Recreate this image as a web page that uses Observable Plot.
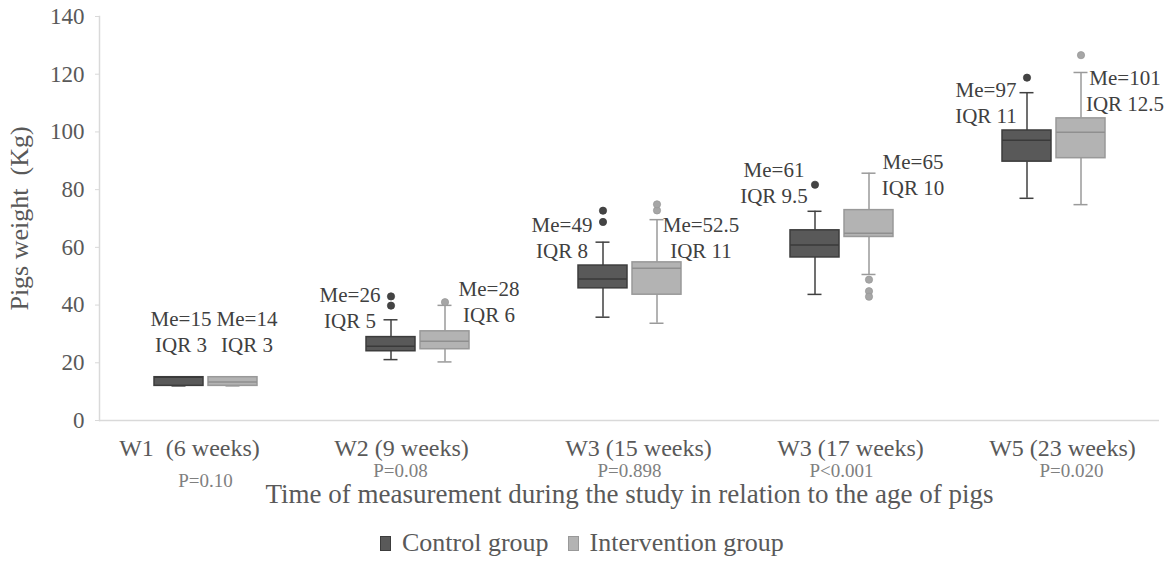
<!DOCTYPE html>
<html>
<head>
<meta charset="utf-8">
<script src="https://cdn.jsdelivr.net/npm/d3@7"></script>
<script src="https://cdn.jsdelivr.net/npm/@observablehq/plot@0.6"></script>
<style>
  body { margin: 0; background: #fff; font-family: "Liberation Serif", "Times New Roman", serif; }
  svg text { white-space: pre; }
  #legend { position: absolute; top: 527px; left: 380px; height: 32px; display: flex; align-items: center;
            font-size: 26px; color: #595959; white-space: nowrap; }
  #legend .sw { display: inline-block; width: 11px; height: 15px; margin-right: 11px; box-sizing: border-box; }
  #legend .item { display: inline-flex; align-items: center; margin-right: 19px; }
</style>
</head>
<body>
<div id="chart"></div>
<div id="legend"></div>
<script>
// ---- data ----
const times = ["W1  (6 weeks)", "W2 (9 weeks)", "W3 (15 weeks)", "W3 (17 weeks)", "W5 (23 weeks)"];
const groups = ["Control group", "Intervention group"];
// [lower whisker, Q1, median, Q3, upper whisker] in kg
const controlBoxes = [
  [12, 12, 15, 15, 15],
  [21.1, 24, 25.7, 28.9, 34.9],
  [35.8, 45.8, 49, 53.7, 61.8],
  [43.7, 56.5, 60.8, 65.9, 72.5],
  [77, 89.7, 97.1, 100.5, 113.6]
];
const interventionBoxes = [
  [12, 12, 13.3, 15, 15],
  [20.3, 24.7, 27.5, 30.9, 39.9],
  [33.7, 43.6, 52.8, 54.8, 69.6],
  [50.6, 63.6, 64.9, 72.9, 85.7],
  [74.8, 90.9, 99.9, 104.7, 120.6]
];
const controlOutliers = [[], [39.8, 43], [68.8, 72.7], [81.7], [118.8]];
const interventionOutliers = [[], [41], [72.8, 74.9], [48.8, 44.8, 42.9], [126.6]];
const controlMe = [15, 26, 49, 61, 97];
const controlIqr = [3, 5, 8, 9.5, 11];
const interventionMe = [14, 28, 52.5, 65, 101];
const interventionIqr = [3, 6, 11, 10, 12.5];
// vertical anchor (kg) of each Me/IQR annotation
const controlLabelKg = [31, 39.6, 63.6, 82.6, 110.4];
const interventionLabelKg = [31, 41.5, 63.7, 85.4, 114.7];
const pValues = ["P=0.10", "P=0.08", "P=0.898", "P<0.001", "P=0.020"];
const yTicks = [0, 20, 40, 60, 80, 100, 120, 140];
const xTitle = "Time of measurement during the study in relation to the age of pigs";
const yTitle = "Pigs weight  (Kg)";

// ---- styles ----
const fillOf = {[groups[0]]: "#595959", [groups[1]]: "#b3b3b3"};
const edgeOf = {[groups[0]]: "#3c3c3c", [groups[1]]: "#999999"};
const medOf = {[groups[0]]: "#3a3a3a", [groups[1]]: "#8f8f8f"};
const whiskOf = {[groups[0]]: "#404040", [groups[1]]: "#9a9a9a"};
const dotOf = {[groups[0]]: "#444444", [groups[1]]: "#a6a6a6"};

// ---- tables ----
const boxes = [];
const outliers = [];
const labels = [];
times.forEach((t, i) => {
  [[groups[0], controlBoxes[i], controlOutliers[i], controlMe[i], controlIqr[i], controlLabelKg[i]],
   [groups[1], interventionBoxes[i], interventionOutliers[i], interventionMe[i], interventionIqr[i], interventionLabelKg[i]]]
  .forEach(([g, b, o, me, iqr, ly]) => {
    boxes.push({time: t, group: g, lo: b[0], q1: b[1], med: b[2], q3: b[3], hi: b[4]});
    o.forEach(v => outliers.push({time: t, group: g, value: v}));
    labels.push({time: t, group: g, text: `Me=${me}\nIQR ${iqr}`, y: ly});
  });
});
const rows = times.map((t, i) => ({time: t, p: pValues[i], i}));

const txt = {fontSize: 21, fill: "#404040", lineHeight: 1.24, textAnchor: "middle"};
const tickTxt = {fx: "time", text: "time", frameAnchor: "bottom", dy: 35, fontSize: 24, fill: "#595959"};
const pTxt = {fx: "time", text: "p", frameAnchor: "bottom", dy: 56, fontSize: 19, fill: "#7f7f7f"};

const chart = Plot.plot({
  width: 1170,
  height: 515,
  marginTop: 16,
  marginBottom: 95,
  marginLeft: 97,
  marginRight: 10,
  style: {fontFamily: '"Liberation Serif", "Times New Roman", serif', background: "#fff", overflow: "visible"},
  fx: {domain: times, padding: 0},
  x: {domain: groups, paddingInner: 0.1, paddingOuter: 1, axis: null},
  y: {domain: [0, 140]},
  marks: [
    Plot.ruleY([0], {stroke: "#d9d9d9", strokeWidth: 1.5}),
    Plot.frame({anchor: "left", stroke: "#d9d9d9", strokeWidth: 1.5, facet: "super"}),
    Plot.axisY({ticks: yTicks, tickSize: 4, tickPadding: 11, fontSize: 23, fill: "#595959", stroke: "#d9d9d9", label: null}),
    Plot.axisY({ticks: [], tickSize: 0, fontSize: 26, fill: "#595959", label: yTitle, labelAnchor: "center", labelOffset: 90, labelArrow: "none"}),
    Plot.axisFx({anchor: "bottom", ticks: [], tickSize: 0, fontSize: 27, fill: "#595959", label: xTitle, labelAnchor: "center", labelOffset: 82}),
    // category labels
    Plot.text(rows.filter(d => d.i < 2), {...tickTxt, dx: -16}),
    Plot.text(rows.filter(d => d.i >= 2), {...tickTxt, dx: 9}),
    // p-values
    Plot.text(rows.filter(d => d.i === 0), {...pTxt, dy: 66}),
    Plot.text(rows.filter(d => d.i === 1), {...pTxt, dx: -17}),
    Plot.text(rows.filter(d => d.i === 2 || d.i === 3), pTxt),
    Plot.text(rows.filter(d => d.i === 4), {...pTxt, dx: 18}),
    // whiskers
    Plot.ruleX(boxes, {fx: "time", x: "group", y1: "lo", y2: "q1", stroke: d => whiskOf[d.group], strokeWidth: 1.5}),
    Plot.ruleX(boxes, {fx: "time", x: "group", y1: "q3", y2: "hi", stroke: d => whiskOf[d.group], strokeWidth: 1.5}),
    Plot.tickY(boxes, {fx: "time", x: "group", y: "lo", stroke: d => whiskOf[d.group], strokeWidth: 1.5, insetLeft: 17.5, insetRight: 17.5}),
    Plot.tickY(boxes, {fx: "time", x: "group", y: "hi", stroke: d => whiskOf[d.group], strokeWidth: 1.5, insetLeft: 17.5, insetRight: 17.5}),
    // boxes
    Plot.barY(boxes, {fx: "time", x: "group", y1: "q1", y2: "q3", fill: d => fillOf[d.group], stroke: d => edgeOf[d.group], strokeWidth: 1.5}),
    Plot.tickY(boxes, {fx: "time", x: "group", y: "med", stroke: d => medOf[d.group], strokeWidth: 1.5}),
    // outliers
    Plot.dot(outliers, {fx: "time", x: "group", y: "value", r: 3.6, fill: d => dotOf[d.group], stroke: d => edgeOf[d.group], strokeWidth: 0.8}),
    // annotations
    Plot.text(labels.filter(d => d.group === groups[0] && d.time === times[0]), {fx: "time", x: "group", y: "y", text: "text", dx: 2, ...txt}),
    Plot.text(labels.filter(d => d.group === groups[0] && d.time !== times[0]), {fx: "time", x: "group", y: "y", text: "text", dx: -41, ...txt}),
    Plot.text(labels.filter(d => d.group === groups[1] && d.time === times[0]), {fx: "time", x: "group", y: "y", text: "text", dx: 14, ...txt}),
    Plot.text(labels.filter(d => d.group === groups[1] && d.time !== times[0]), {fx: "time", x: "group", y: "y", text: "text", dx: 44, ...txt})
  ]
});
document.getElementById("chart").appendChild(chart);

const legend = document.getElementById("legend");
groups.forEach(g => {
  const item = document.createElement("span");
  item.className = "item";
  const sw = document.createElement("span");
  sw.className = "sw";
  sw.style.background = fillOf[g];
  sw.style.border = `1px solid ${edgeOf[g]}`;
  item.appendChild(sw);
  item.appendChild(document.createTextNode(g));
  legend.appendChild(item);
});
</script>
</body>
</html>
